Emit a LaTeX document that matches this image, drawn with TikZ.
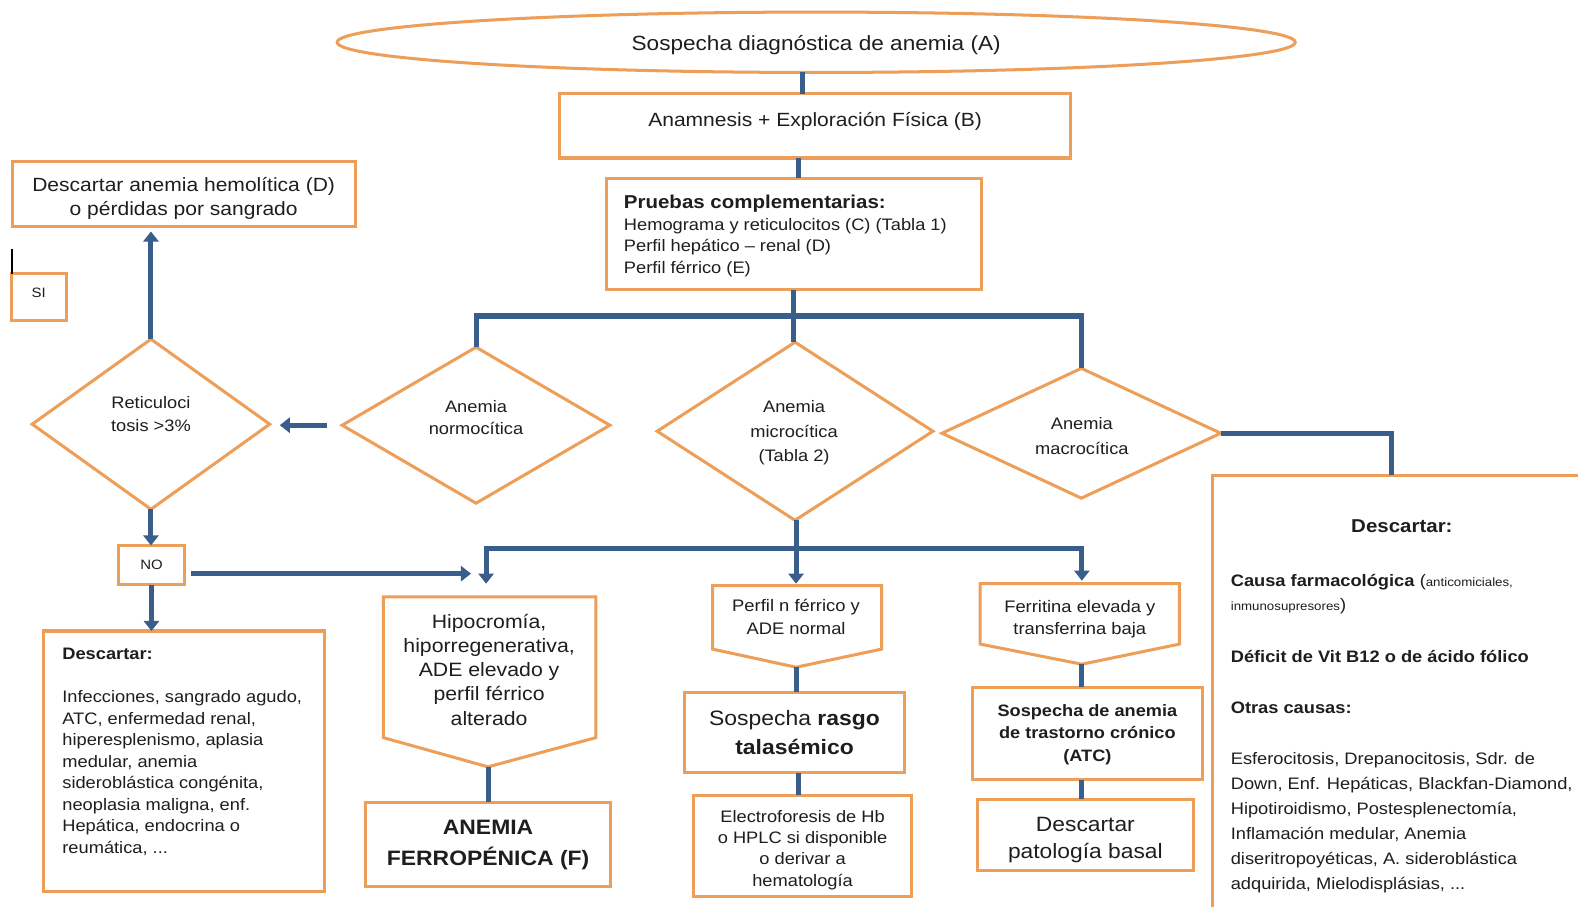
\documentclass[tikz,border=0pt]{standalone}
\usepackage{fontspec}
\setmainfont[FakeStretch=1.1]{Liberation Sans}
\usetikzlibrary{shapes.geometric,arrows.meta,calc}
\definecolor{obord}{RGB}{237,158,88}
\definecolor{bline}{RGB}{58,94,140}
\definecolor{txt}{RGB}{30,30,30}
\newcommand\szS{\fontsize{13.5}{16}\selectfont}
\newcommand\szM{\fontsize{16.5}{21.4}\selectfont}
\newcommand\szL{\fontsize{19}{24}\selectfont}
\newcommand\szXL{\fontsize{20.7}{29}\selectfont}
\begin{document}
\begin{tikzpicture}[x=1pt,y=-1pt,
  box/.style={draw=obord, line width=3pt, rectangle, inner sep=0pt, outer sep=0pt, fill=white, text=txt},
  dia/.style={draw=obord, line width=3pt, diamond, inner sep=0pt, outer sep=0pt, fill=white},
  obox/.style={draw=obord, line width=3pt, line join=miter, fill=white},
  txtn/.style={text=txt, inner sep=0pt, outer sep=0pt},
  conn/.style={draw=bline, line width=5pt},
  arr/.style={draw=bline, line width=5pt, -{Triangle[width=15pt,length=10pt]}},
]
\useasboundingbox (0,0) rectangle (1568,901);
\clip (0,0) rectangle (1568,901);
\fill[white] (0,0) rectangle (1568,901);

% ---------- top ----------
\node[box, ellipse, minimum width=952, minimum height=60] (ell) at (811,42) {};
\node[txtn, font=\fontsize{20.4}{24}\selectfont] (ellT) at (811,45) {Sospecha diagnóstica de anemia (A)};
\node[box, minimum width=508, minimum height=64] (anam) at (810,125) {};
\node[txtn, font=\szL] (anamT) at (810,121) {Anamnesis + Exploración Física (B)};
\node[box, minimum width=372, minimum height=111] (prue) at (789,232.5) {};
\node[txtn, font=\szM, align=left, anchor=west] (prueT) at (620,234.5) {{\fontsize{18.5}{21.4}\selectfont\bfseries Pruebas complementarias:}\\Hemograma y reticulocitos (C) (Tabla 1)\\Perfil hepático – renal (D)\\Perfil férrico (E)};

\coordinate (xA) at (797,0);
\coordinate (xB) at (793,0);
\draw[conn] (ell.south -| xA) -- (anam.north -| xA);
\draw[conn] (anam.south -| xB) -- (prue.north -| xB);

% ---------- diamonds ----------
\node[dia, minimum width=266, minimum height=155] (normo) at (473,422.5) {};
\node[txtn, font=\fontsize{16.5}{22}\selectfont, align=center] (normoT) at (473,415) {Anemia\\normocítica};
\node[dia, minimum width=274, minimum height=177] (micro) at (790,428.5) {};
\node[txtn, font=\fontsize{16.5}{24}\selectfont, align=center] (microT) at (789,430) {Anemia\\microcítica\\(Tabla 2)};
\node[dia, minimum width=277, minimum height=129] (macro) at (1074.5,430.5) {};
\node[txtn, font=\fontsize{16.5}{25}\selectfont, align=center] (macroT) at (1075,433) {Anemia\\macrocítica};

\coordinate (j1) at (788,314);
\draw[conn] (prue.south -| j1) -- (j1);
\draw[conn, line join=miter] (normo.north) -- (normo.north |- j1) -- (macro.north |- j1) -- (macro.north);
\draw[conn] (j1) -- (micro.north -| j1);

% ---------- macrocytic box ----------
\node[box, minimum width=400, minimum height=460, anchor=north west] (macbox) at (1205,472) {};
\coordinate (xC) at (1383,0);
\draw[conn, line join=miter] (macro.east) -| (macbox.north -| xC);
\node[txtn, font=\fontsize{18.5}{22}\selectfont\bfseries] (macT1) at (1393,523) {Descartar:};
\node[txtn, font=\szM, anchor=base west] (macT2) at (1223,583) {\textbf{Causa farmacológica} ({\fontsize{12}{13}\selectfont anticomiciales,}};
\node[txtn, font=\szM, anchor=base west] (macT3) at (1223,607) {{\fontsize{12}{13}\selectfont inmunosupresores})};
\node[txtn, font=\szM\bfseries, anchor=base west] (macT4) at (1223,658) {Déficit de Vit B12 o de ácido fólico};
\node[txtn, font=\szM\bfseries, anchor=base west] (macT5) at (1223,709) {Otras causas:};
\node[txtn, font=\fontsize{16.5}{24.8}\selectfont, align=left, anchor=west] (macT6) at (1223,817.5) {Esferocitosis, Drepanocitosis, Sdr. de\\Down, Enf. Hepáticas, Blackfan-Diamond,\\Hipotiroidismo, Postesplenectomía,\\Inflamación medular, Anemia\\diseritropoyéticas, A. sideroblástica\\adquirida, Mielodisplásias, ...};

% ---------- left column ----------
\node[dia, minimum width=236, minimum height=169] (retic) at (150,421.5) {};
\node[txtn, font=\fontsize{16.5}{23}\selectfont, align=center] (reticT) at (150,411.5) {Reticuloci\\tosis >3\%};
\draw[arr, shorten <=15pt, shorten >=10pt] (normo.west) -- (retic.east |- normo.west);

\node[box, minimum width=341, minimum height=65] (hemo) at (182.5,192.5) {};
\node[txtn, font=\fontsize{19}{24}\selectfont, align=center] (hemoT) at (182.5,197.5) {Descartar anemia hemolítica (D)\\o pérdidas por sangrado};
\draw[arr, shorten >=5pt] (retic.north) -- (retic.north |- hemo.south);

\node[box, minimum width=55, minimum height=46] (si) at (38.5,295) {};
\node[txtn, font=\szS] (siT) at (38.5,291) {SI};
\coordinate (curTop) at (12,247);
\draw[black, line width=1.2pt] (curTop) -- (si.north west -| curTop);

\node[box, minimum width=65, minimum height=39, font=\szS] (no) at (150.5,561.5) {NO};
\draw[arr] (retic.south) -- (retic.south |- no.north);

\node[box, minimum width=279, minimum height=259] (left) at (182.5,756.5) {};
\draw[arr] (no.south) -- (no.south |- left.north);
\node[txtn, font=\fontsize{16.5}{21.33}\selectfont, align=left, anchor=west] (leftT) at (62,747) {\textbf{Descartar:}\\[21.33pt]Infecciones, sangrado agudo,\\ATC, enfermedad renal,\\hiperesplenismo, aplasia\\medular, anemia\\sideroblástica congénita,\\neoplasia maligna, enf.\\Hepática, endocrina o\\reumática, ...};

\coordinate (noEnd) at (468,570);
\draw[arr] ([shift={(7,8.5)}]no.east) -- (noEnd);

% ---------- microcytic branch ----------
\coordinate (j2) at (791,545);
\coordinate (hipoIn) at (483,580);
\coordinate (perfIn) at (791,580);
\coordinate (ferrIn) at (1075,577);
\draw[conn] (micro.south -| j2) -- (j2);
\draw[conn, line cap=rect] (hipoIn |- j2) -- (ferrIn |- j2);
\draw[arr] (hipoIn |- j2) -- (hipoIn);
\draw[arr] (j2) -- (perfIn);
\draw[arr] (ferrIn |- j2) -- (ferrIn);

% Hipocromia
\coordinate (hipoTip) at (485,762);
\draw[obox] (381,593) -- (592,593) -- (592,733) -- (hipoTip) -- (381,733) -- cycle;
\node[txtn, font=\fontsize{19.2}{24}\selectfont, align=center] (hipoT) at (486,665.5) {Hipocromía,\\hiporregenerativa,\\ADE elevado y\\perfil férrico\\alterado};
\node[box, minimum width=244, minimum height=84] (ferro) at (485,839) {};
\node[txtn, font=\fontsize{20.7}{31}\selectfont\bfseries, align=center] (ferroT) at (485,840) {ANEMIA\\FERROPÉNICA (F)};
\draw[conn] (hipoTip) -- (ferro.north);

% Perfil
\coordinate (perfTip) at (791,663);
\draw[obox] (708,582) -- (876,582) -- (876,645) -- (perfTip) -- (708,645) -- cycle;
\node[txtn, font=\fontsize{16.6}{22}\selectfont, align=center] (perfT) at (791,613) {Perfil n férrico y\\ADE normal};
\node[box, minimum width=219, minimum height=80, font=\szXL, align=center] (rasgo) at (789.5,728) {Sospecha \textbf{rasgo}\\\textbf{talasémico}};
\draw[conn] (perfTip) -- (perfTip |- rasgo.north);
\node[box, minimum width=217, minimum height=101] (electro) at (797.5,840.5) {};
\node[txtn, font=\fontsize{16.5}{21.3}\selectfont, align=center] (electroT) at (797.5,844.5) {Electroforesis de Hb\\o HPLC si disponible\\o derivar a\\hematología};
\coordinate (xD) at (793,0);
\draw[conn] (rasgo.south -| xD) -- (electro.north -| xD);

% Ferritina
\coordinate (ferrTip) at (1075,660);
\draw[obox] (974,580) -- (1172,580) -- (1172,640) -- (ferrTip) -- (974,640) -- cycle;
\node[txtn, font=\fontsize{16.6}{22}\selectfont, align=center] (ferrT) at (1073,615) {Ferritina elevada y\\transferrina baja};
\node[box, minimum width=229, minimum height=92] (atc) at (1080.5,729) {};
\node[txtn, font=\fontsize{16.4}{22}\selectfont\bfseries, align=center] (atcT) at (1080.5,730) {Sospecha de anemia\\de trastorno crónico\\(ATC)};
\draw[conn] (ferrTip) -- (ferrTip |- atc.north);
\node[box, minimum width=215, minimum height=71] (basal) at (1078.5,829.5) {};
\node[txtn, font=\fontsize{20.6}{27}\selectfont, align=center] (basalT) at (1078.5,834.5) {Descartar\\patología basal};
\coordinate (xE) at (1075,0);
\draw[conn] (atc.south -| xE) -- (basal.north -| xE);
\end{tikzpicture}
\end{document}
